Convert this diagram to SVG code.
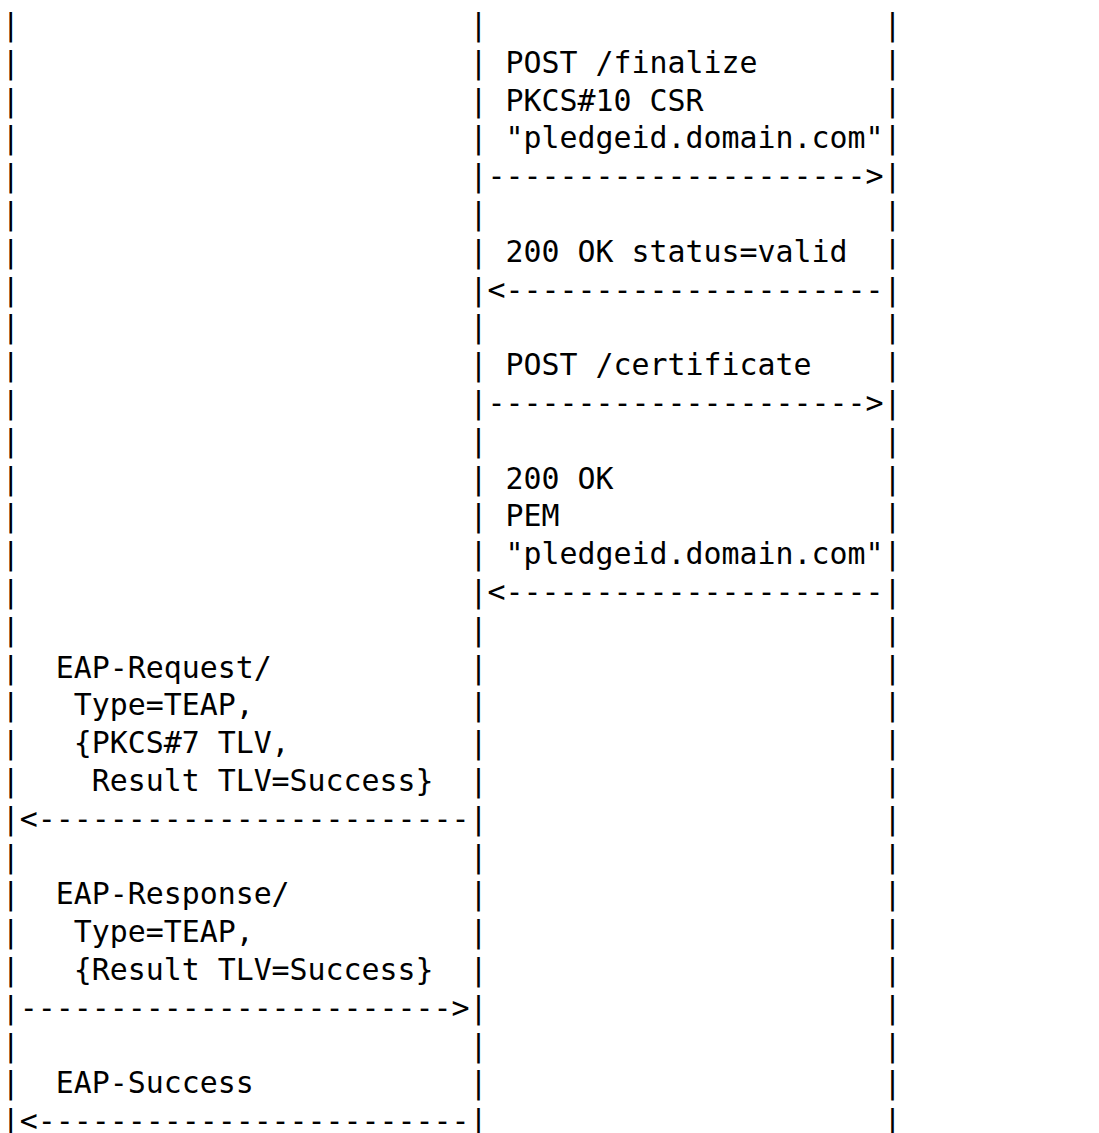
<svg xmlns="http://www.w3.org/2000/svg" width="1099" height="1133" viewBox="0 0 1099 1133">
  <style>
    text { font-family: "DejaVu Sans Mono", "Liberation Mono", monospace; font-size: 29.9px; fill: #000; white-space: pre; }
  </style>
  <rect width="1099" height="1133" fill="#fff"/>
  <!-- lifeline-only rows -->
  <g id="lifelines" xml:space="preserve">
    <text x="1.7" y="34.9">|                         |                      |</text>
    <text x="1.7" y="223.9">|                         |                      |</text>
    <text x="1.7" y="337.3">|                         |                      |</text>
    <text x="1.7" y="450.7">|                         |                      |</text>
    <text x="1.7" y="639.7">|                         |                      |</text>
    <text x="1.7" y="866.5">|                         |                      |</text>
    <text x="1.7" y="1055.5">|                         |                      |</text>
  </g>
  <g id="finalize-request" xml:space="preserve">
    <text x="1.7" y="72.7">|                         | POST /finalize       |</text>
    <text x="1.7" y="110.5">|                         | PKCS#10 CSR          |</text>
    <text x="1.7" y="148.3">|                         | "pledgeid.domain.com"|</text>
  </g>
  <g id="finalize-response" xml:space="preserve">
    <text x="1.7" y="261.7">|                         | 200 OK status=valid  |</text>
  </g>
  <g id="certificate-request" xml:space="preserve">
    <text x="1.7" y="375.1">|                         | POST /certificate    |</text>
  </g>
  <g id="certificate-response" xml:space="preserve">
    <text x="1.7" y="488.5">|                         | 200 OK               |</text>
    <text x="1.7" y="526.3">|                         | PEM                  |</text>
    <text x="1.7" y="564.1">|                         | "pledgeid.domain.com"|</text>
  </g>
  <g id="eap-request" xml:space="preserve">
    <text x="1.7" y="677.5">|  EAP-Request/           |                      |</text>
    <text x="1.7" y="715.3">|   Type=TEAP,            |                      |</text>
    <text x="1.7" y="753.1">|   {PKCS#7 TLV,          |                      |</text>
    <text x="1.7" y="790.9">|    Result TLV=Success}  |                      |</text>
  </g>
  <g id="eap-response" xml:space="preserve">
    <text x="1.7" y="904.3">|  EAP-Response/          |                      |</text>
    <text x="1.7" y="942.1">|   Type=TEAP,            |                      |</text>
    <text x="1.7" y="979.9">|   {Result TLV=Success}  |                      |</text>
  </g>
  <g id="eap-success" xml:space="preserve">
    <text x="1.7" y="1093.3">|  EAP-Success            |                      |</text>
  </g>
  <!-- message arrows -->
  <g id="connectors" xml:space="preserve">
    <text x="1.7" y="186.1">|                         |--------------------->|</text>
    <text x="1.7" y="299.5">|                         |&lt;---------------------|</text>
    <text x="1.7" y="412.9">|                         |--------------------->|</text>
    <text x="1.7" y="601.9">|                         |&lt;---------------------|</text>
    <text x="1.7" y="828.7">|&lt;------------------------|                      |</text>
    <text x="1.7" y="1017.7">|------------------------>|                      |</text>
    <text x="1.7" y="1131.1">|&lt;------------------------|                      |</text>
  </g>
</svg>
